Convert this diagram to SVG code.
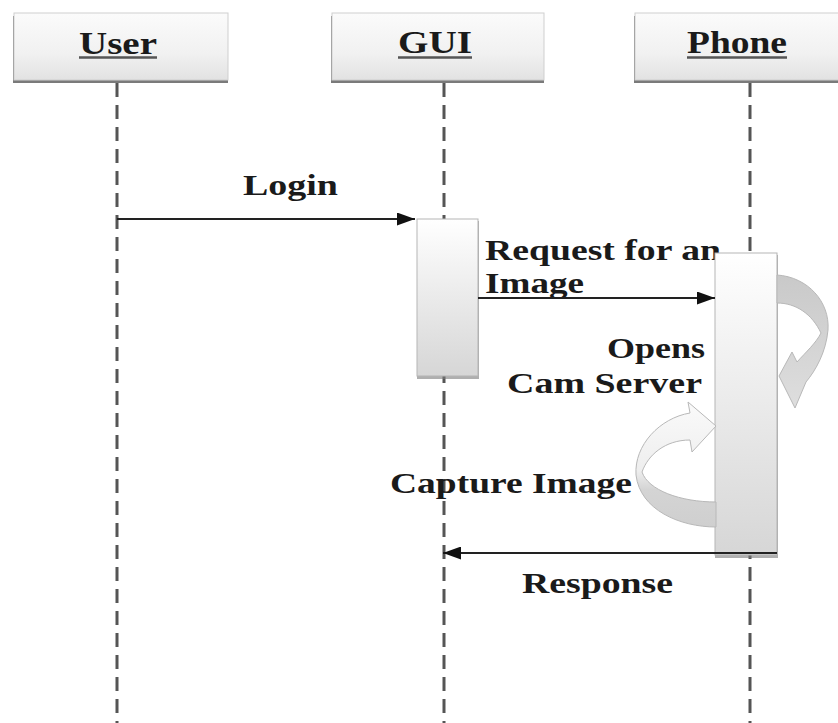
<svg xmlns="http://www.w3.org/2000/svg" width="838" height="723" viewBox="0 0 838 723">
<defs>
<linearGradient id="hdr" x1="0" y1="0" x2="0" y2="1">
<stop offset="0" stop-color="#fbfbfb"/>
<stop offset="0.6" stop-color="#f1f1f1"/>
<stop offset="1" stop-color="#e2e2e2"/>
</linearGradient>
<linearGradient id="act" x1="0" y1="0" x2="0" y2="1">
<stop offset="0" stop-color="#ffffff"/>
<stop offset="1" stop-color="#d6d6d6"/>
</linearGradient>
<linearGradient id="loop1" x1="0" y1="0" x2="0" y2="1">
<stop offset="0" stop-color="#c9c9c9"/>
<stop offset="1" stop-color="#dedede"/>
</linearGradient>
<linearGradient id="loop2" x1="0" y1="0" x2="0" y2="1">
<stop offset="0" stop-color="#fafafa"/>
<stop offset="0.55" stop-color="#eeeeee"/>
<stop offset="0.7" stop-color="#d4d4d4"/>
<stop offset="1" stop-color="#cfcfcf"/>
</linearGradient>
<marker id="ah" viewBox="0 0 18 13" refX="18" refY="6.5" markerWidth="18" markerHeight="13" markerUnits="userSpaceOnUse" orient="auto">
<path d="M0,0 L18,6.5 L0,13 Z" fill="#111"/>
</marker>
</defs>
<style>
.hbox{fill:url(#hdr);stroke:#cfcfcf;stroke-width:1}
.shadow{fill:#7a7a7a}
.abox{fill:url(#act);stroke:#b5b5b5;stroke-width:1}
.life{stroke:#555;stroke-width:3;stroke-dasharray:14 8;fill:none}
.msg{stroke:#222;stroke-width:2;fill:none;marker-end:url(#ah)}
.t{font-family:"Liberation Serif","Times New Roman",serif;font-weight:bold;fill:#1a1a1a}
.ht{font-size:32px}
.bt{font-size:29px}
.ul{stroke:#555;stroke-width:2.5}
.loop{stroke:#b8b8b8;stroke-width:1}
</style>
<rect width="838" height="723" fill="#ffffff"/>

<g id="lifelines">
<line class="life" x1="117" y1="83" x2="117" y2="723"/>
<line class="life" x1="444" y1="83" x2="444" y2="723"/>
<line class="life" x1="750" y1="83" x2="750" y2="723"/>
</g>

<g id="node-user">
<rect class="shadow" x="13" y="16" width="215" height="67"/>
<rect class="hbox" x="14" y="13" width="214" height="67"/>
<text class="t ht" x="79" y="54" textLength="78" lengthAdjust="spacingAndGlyphs">User</text>
<line class="ul" x1="79" y1="57.5" x2="157" y2="57.5"/>
</g>

<g id="node-gui">
<rect class="shadow" x="331" y="16" width="213" height="67"/>
<rect class="hbox" x="332" y="13" width="212" height="67"/>
<text class="t ht" x="398" y="53" textLength="74" lengthAdjust="spacingAndGlyphs">GUI</text>
<line class="ul" x1="398" y1="57.5" x2="472" y2="57.5"/>
</g>

<g id="node-phone">
<rect class="shadow" x="634" y="16" width="210" height="67"/>
<rect class="hbox" x="635" y="13" width="210" height="67"/>
<text class="t ht" x="687" y="53" textLength="100" lengthAdjust="spacingAndGlyphs">Phone</text>
<line class="ul" x1="687" y1="57.5" x2="787" y2="57.5"/>
</g>

<g id="activation-gui">
<rect class="shadow" x="417" y="221" width="62" height="158" opacity="0.6"/>
<rect class="abox" x="417" y="219" width="61" height="157"/>
</g>

<g id="labels">
<text class="t bt" x="243" y="195" textLength="95" lengthAdjust="spacingAndGlyphs">Login</text>
<text class="t bt" x="485" y="260" textLength="236" lengthAdjust="spacingAndGlyphs">Request for an</text>
<text class="t bt" x="485" y="293" textLength="99" lengthAdjust="spacingAndGlyphs">Image</text>
<text class="t bt" x="607" y="358" textLength="98" lengthAdjust="spacingAndGlyphs">Opens</text>
<text class="t bt" x="507" y="393" textLength="195" lengthAdjust="spacingAndGlyphs">Cam Server</text>
<text class="t bt" x="390" y="493" textLength="242" lengthAdjust="spacingAndGlyphs">Capture Image</text>
<text class="t bt" x="522" y="593" textLength="151" lengthAdjust="spacingAndGlyphs">Response</text>
</g>

<g id="activation-phone">
<rect class="shadow" x="715" y="255" width="63" height="303" opacity="0.6"/>
<rect class="abox" x="715" y="253" width="62" height="302"/>
</g>

<g id="connectors">
<line class="msg" x1="117" y1="219" x2="415" y2="219"/>
<line class="msg" x1="478" y1="298" x2="715" y2="298"/>
<line class="msg" x1="777" y1="553" x2="443" y2="553"/>
<path id="loop-opens" class="loop" fill="url(#loop1)" d="M777,275 C808,277 830,302 828,330 C826,352 816,370 806,382 L795,408 L779,376 L792,352 L797,362 C806,352 816,343 821,333 C812,314 796,303 777,303 Z"/>
<path id="loop-capture" class="loop" fill="url(#loop2)" d="M716,527 C680,527 640,510 636,475 C634,445 660,418 690,413 L688,402 L716,426 L692,452 L690,440 C665,440 648,455 642,472 C648,490 680,502 716,502 Z"/>
</g>
</svg>
